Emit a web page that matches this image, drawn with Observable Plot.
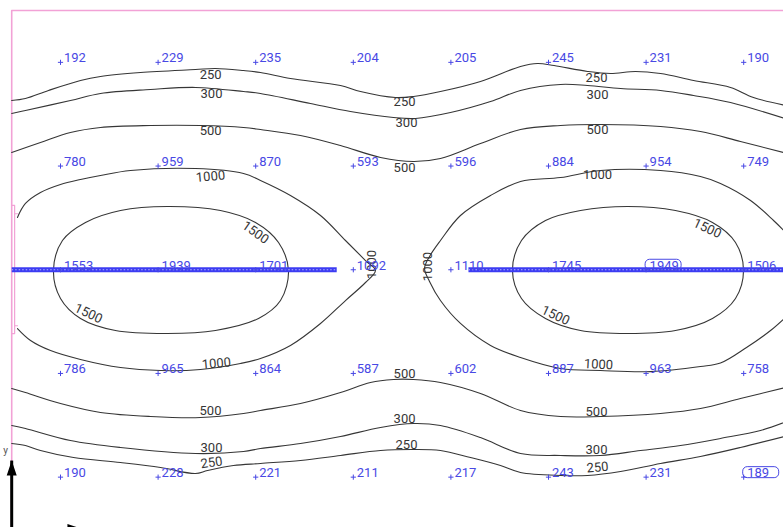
<!DOCTYPE html>
<html>
<head>
<meta charset="utf-8">
<script src="https://cdn.jsdelivr.net/npm/d3@7"></script>
<script src="https://cdn.jsdelivr.net/npm/@observablehq/plot@0.6"></script>
<style>
  html, body { margin: 0; padding: 0; background: #fff; }
  #chart svg { display: block; }
</style>
</head>
<body>
<div id="chart"></div>
<script>
// Illuminance calculation grid (lux), room coordinates in metres
const columnsX = [0.5, 1.5, 2.5, 3.5, 4.5, 5.5, 6.5, 7.5];
const rowsY = [4.5, 3.5, 2.5, 1.5, 0.5];
const row1 = [192, 229, 235, 204, 205, 245, 231, 190];
const row2 = [780, 959, 870, 593, 596, 884, 954, 749];
const row3 = [1553, 1939, 1701, 1092, 1110, 1745, 1949, 1506];
const row4 = [786, 965, 864, 587, 602, 887, 963, 758];
const row5 = [190, 228, 221, 211, 217, 243, 231, 189];
const gridValues = [row1, row2, row3, row4, row5];

// Luminaire rows [start, end] along y = 2.5 m
const luminaireRow = 2.5;
const luminaires = [[0, 3.33], [4.68, 8]];

// Room walls and the window recess on the left wall
const walls = [[8, 5], [0, 5], [0, 0]];
const windowRecess = [[0, 3.12], [0.03, 3.12], [0.03, 1.885], [0, 1.885]];
const windowTicks = [[[0.03, 3.04], [0.06, 3.04]], [[0.03, 1.96], [0.06, 1.96]]];

// Isolux lines
const iso250Top = [[0,4.132],[0.141,4.151],[0.377,4.229],[0.705,4.325],[0.91,4.364],[1.32,4.402],[1.883,4.431],[2.088,4.441],[2.375,4.421],[2.549,4.402],[2.856,4.344],[3.369,4.277],[3.574,4.219],[3.932,4.161],[4.117,4.171],[4.393,4.219],[4.803,4.316],[5.213,4.46],[5.387,4.489],[5.557,4.469],[5.9,4.412],[6.135,4.392],[6.391,4.412],[6.648,4.392],[6.986,4.325],[7.365,4.258],[7.6,4.161],[7.95,4.08]];
const iso300Top = [[0,4.007],[0.141,4.036],[0.602,4.132],[0.91,4.2],[1.422,4.238],[1.883,4.258],[2.375,4.219],[2.549,4.2],[3.061,4.103],[3.471,4.026],[3.912,3.968],[4.137,3.959],[4.496,4.016],[4.906,4.122],[5.213,4.229],[5.623,4.287],[5.9,4.277],[6.238,4.248],[6.648,4.229],[6.986,4.181],[7.365,4.113],[7.95,3.95]];
const iso500Top = [[0,3.631],[0.295,3.727],[0.602,3.823],[0.91,3.872],[1.422,3.891],[1.934,3.891],[2.375,3.872],[2.549,3.852],[2.959,3.795],[3.369,3.698],[3.779,3.583],[4.117,3.544],[4.393,3.573],[4.803,3.717],[5.213,3.852],[5.623,3.891],[6.033,3.901],[6.648,3.882],[7.057,3.833],[7.467,3.737],[7.95,3.62]];
const iso1000Left = [[0.059,3.004],[0.141,3.139],[0.295,3.245],[0.5,3.322],[0.705,3.37],[0.91,3.409],[1.217,3.457],[1.883,3.476],[2.375,3.428],[2.549,3.361],[2.856,3.216],[3.164,3.023],[3.42,2.782],[3.625,2.589],[3.727,2.493],[3.625,2.377],[3.42,2.203],[3.164,1.982],[2.856,1.77],[2.549,1.644],[2.344,1.596],[1.934,1.538],[1.525,1.528],[1.115,1.557],[0.705,1.635],[0.398,1.721],[0.193,1.818],[0.059,1.933]];
const iso1000Right = [[7.95,2.84],[7.806,2.975],[7.57,3.168],[7.262,3.332],[7.057,3.399],[6.648,3.457],[6.033,3.457],[5.623,3.389],[5.213,3.351],[4.906,3.216],[4.598,3.023],[4.393,2.782],[4.281,2.628],[4.23,2.512],[4.281,2.387],[4.393,2.203],[4.598,1.982],[4.906,1.77],[5.213,1.654],[5.623,1.548],[6.033,1.528],[6.545,1.518],[7.057,1.567],[7.262,1.6],[7.529,1.75],[7.775,1.914],[7.95,2.06]];
const iso1500Left = [[0.428,2.493],[0.52,2.782],[0.756,2.956],[1.115,3.071],[1.596,3.11],[2.139,3.071],[2.498,2.956],[2.734,2.763],[2.836,2.493],[2.754,2.203],[2.529,2.03],[2.088,1.914],[1.596,1.885],[1.063,1.914],[0.705,2.03],[0.5,2.223]];
const iso1500Right = [[5.131,2.493],[5.223,2.782],[5.469,2.975],[5.828,3.071],[6.311,3.11],[6.801,3.071],[7.18,2.956],[7.416,2.763],[7.498,2.493],[7.416,2.223],[7.18,2.03],[6.801,1.914],[6.311,1.885],[5.828,1.914],[5.469,2.03],[5.223,2.223]];
const iso500Bottom = [[0,1.355],[0.141,1.316],[0.5,1.21],[0.91,1.124],[1.422,1.085],[1.934,1.075],[2.375,1.114],[2.549,1.143],[2.959,1.21],[3.369,1.316],[3.676,1.413],[3.912,1.442],[4.117,1.442],[4.393,1.413],[4.803,1.307],[5.213,1.143],[5.623,1.085],[6.033,1.085],[6.648,1.114],[7.057,1.162],[7.467,1.258],[7.95,1.37]];
const iso300Bottom = [[0,0.998],[0.141,0.969],[0.602,0.853],[1.115,0.786],[1.883,0.728],[2.375,0.747],[2.549,0.776],[2.959,0.824],[3.369,0.892],[3.779,0.979],[4.117,1.017],[4.393,0.998],[4.803,0.882],[5.213,0.728],[5.623,0.709],[6.033,0.709],[6.443,0.757],[6.852,0.805],[7.262,0.873],[7.672,0.95],[7.95,1.04]];
const iso250Bottom = [[0,0.824],[0.141,0.805],[0.295,0.757],[0.633,0.689],[1.115,0.641],[1.525,0.593],[1.883,0.535],[2.006,0.564],[2.272,0.612],[2.549,0.632],[2.959,0.661],[3.369,0.709],[3.779,0.757],[4.117,0.767],[4.393,0.757],[4.701,0.689],[5.008,0.612],[5.213,0.545],[5.623,0.516],[5.9,0.516],[6.238,0.554],[6.648,0.632],[7.057,0.699],[7.467,0.786],[7.95,0.9]];

const openIsolines = [
  {level: 250, pts: iso250Top}, {level: 300, pts: iso300Top}, {level: 500, pts: iso500Top},
  {level: 1000, pts: iso1000Left}, {level: 1000, pts: iso1000Right},
  {level: 500, pts: iso500Bottom}, {level: 300, pts: iso300Bottom}, {level: 250, pts: iso250Bottom}
];
const closedIsolines = [
  {level: 1500, pts: iso1500Left}, {level: 1500, pts: iso1500Right}
];

// Isoline labels: level, position (m), text angle (deg)
const isoLabels = [
  [250, 2.039, 4.383, 0], [250, 4.025, 4.122, 0], [250, 5.992, 4.354, 0],
  [300, 2.047, 4.2, 0], [300, 4.045, 3.92, 0], [300, 6.002, 4.19, 0],
  [500, 2.039, 3.843, 0], [500, 4.025, 3.486, 0], [500, 6.002, 3.852, 0],
  [1000, 2.037, 3.399, -5], [1000, 6.002, 3.418, 0],
  [1000, 3.686, 2.551, -90], [1000, 4.266, 2.531, -90],
  [1000, 2.098, 1.596, -5], [1000, 6.012, 1.586, 3],
  [1500, 2.498, 2.859, 35], [1500, 0.787, 2.078, 25],
  [1500, 7.127, 2.898, 25], [1500, 5.572, 2.059, 25],
  [500, 2.037, 1.143, 0], [500, 4.025, 1.5, 0], [500, 5.992, 1.133, 0],
  [300, 2.047, 0.786, 0], [300, 4.025, 1.066, 0], [300, 5.992, 0.767, 0],
  [250, 2.047, 0.641, -8], [250, 4.045, 0.815, 0], [250, 6.002, 0.593, -5]
];

// Coordinate system icon at the room origin
const ucsTips = {y: [0, 0.66], x: [0.725, 0]};

// ---- derived tables ----
const cells = rowsY.flatMap((y, r) => columnsX.map((x, c) => ({x, y, v: gridValues[r][c]})));
const vmax = d3.max(cells, d => d.v), vmin = d3.min(cells, d => d.v);
const extremes = cells.filter(d => d.v === vmax || d.v === vmin);
const toRows = (list, closed) => list.flatMap((c, i) => c.pts.map(([x, y]) => ({x, y, id: (closed ? "c" : "o") + i, level: c.level})));
const openRows = toRows(openIsolines, false);
const closedRows = toRows(closedIsolines, true);
const labelRows = isoLabels.map(([level, x, y, angle]) => ({level, x, y, angle}));
const lampRows = luminaires.map(([x1, x2]) => ({x1, x2, y: luminaireRow}));

const BLUE = "#4848e4";
const LAMP = "#3c3cf2";
const INK = "#363636";
const PINK = "#f2a2d6";
const FONT = "Roboto, 'DejaVu Sans Condensed', sans-serif";

// Small stroked "+" marker
const crossSymbol = {draw(ctx) { ctx.moveTo(-2.6, 0); ctx.lineTo(2.6, 0); ctx.moveTo(0, -2.6); ctx.lineTo(0, 2.6); }};
// Rounded box used to flag the minimum and maximum values
const boxSymbol = {draw(ctx) {
  const w = 18, h = 5.5, r = 4.5;
  ctx.moveTo(-w + r, -h); ctx.lineTo(w - r, -h); ctx.arcTo(w, -h, w, -h + r, r);
  ctx.lineTo(w, h - r); ctx.arcTo(w, h, w - r, h, r); ctx.lineTo(-w + r, h);
  ctx.arcTo(-w, h, -w, h - r, r); ctx.lineTo(-w, -h + r); ctx.arcTo(-w, -h, -w + r, -h, r); ctx.closePath();
}};
const arrowUp = {draw(ctx) { ctx.moveTo(0, 0); ctx.lineTo(-5, 15); ctx.lineTo(5, 15); ctx.closePath(); }};
const arrowRight = {draw(ctx) { ctx.moveTo(0, 0); ctx.lineTo(-15, -5); ctx.lineTo(-15, 5); ctx.closePath(); }};

const chart = Plot.plot({
  width: 783,
  height: 527,
  margin: 0,
  x: {domain: [0, 8], range: [11.2, 792], axis: null},
  y: {domain: [0, 5], range: [528.5, 10], axis: null},
  style: {background: "#fff", overflow: "hidden"},
  marks: [
    // walls
    Plot.line(walls, {x: d => d[0], y: d => d[1], stroke: PINK, strokeWidth: 1.6}),
    Plot.line(windowRecess, {x: d => d[0], y: d => d[1], stroke: PINK, strokeWidth: 1.2}),
    ...windowTicks.map(t => Plot.line(t, {x: d => d[0], y: d => d[1], stroke: PINK, strokeWidth: 1.2})),
    // isolux lines
    Plot.line(openRows, {x: "x", y: "y", z: "id", curve: "catmull-rom", stroke: INK, strokeWidth: 1.1}),
    Plot.line(closedRows, {x: "x", y: "y", z: "id", curve: "catmull-rom-closed", stroke: INK, strokeWidth: 1.1}),
    // luminaire rows
    Plot.link(lampRows, {x1: "x1", x2: "x2", y1: "y", y2: "y", stroke: LAMP, strokeWidth: 5}),
    Plot.link(lampRows, {x1: "x1", x2: "x2", y1: "y", y2: "y", stroke: "#b4b4ff", strokeWidth: 1, strokeDasharray: "1.5,2"}),
    // isoline labels
    Plot.text(labelRows, {x: "x", y: "y", text: d => String(d.level), rotate: "angle", fill: INK,
      fontSize: 13, fontFamily: FONT}),
    // grid points and values
    Plot.dot(cells, {x: "x", y: "y", symbol: crossSymbol, stroke: BLUE, fill: "none", strokeWidth: 1}),
    Plot.text(cells, {x: "x", y: "y", text: d => String(d.v), textAnchor: "start", lineAnchor: "bottom",
      dx: 3.5, dy: 0, fill: BLUE, fontSize: 13, fontFamily: FONT}),
    Plot.dot(extremes, {x: "x", y: "y", symbol: boxSymbol, dx: 17, dy: -5, stroke: BLUE, fill: "none", strokeWidth: 1}),
    // coordinate icon
    Plot.link([ucsTips.y, ucsTips.x], {x1: 0, y1: 0, x2: d => d[0], y2: d => d[1], stroke: "#000", strokeWidth: 3}),
    Plot.dot([ucsTips.y], {x: d => d[0], y: d => d[1], symbol: arrowUp, fill: "#000", stroke: "none"}),
    Plot.dot([ucsTips.x], {x: d => d[0], y: d => d[1], symbol: arrowRight, fill: "#000", stroke: "none"}),
    Plot.text([ucsTips.y], {x: d => d[0], y: d => d[1], text: () => "y", dx: -6, dy: -10, fill: "#555",
      fontSize: 10, fontFamily: FONT})
  ]
});

document.getElementById("chart").appendChild(chart);
</script>
</body>
</html>
